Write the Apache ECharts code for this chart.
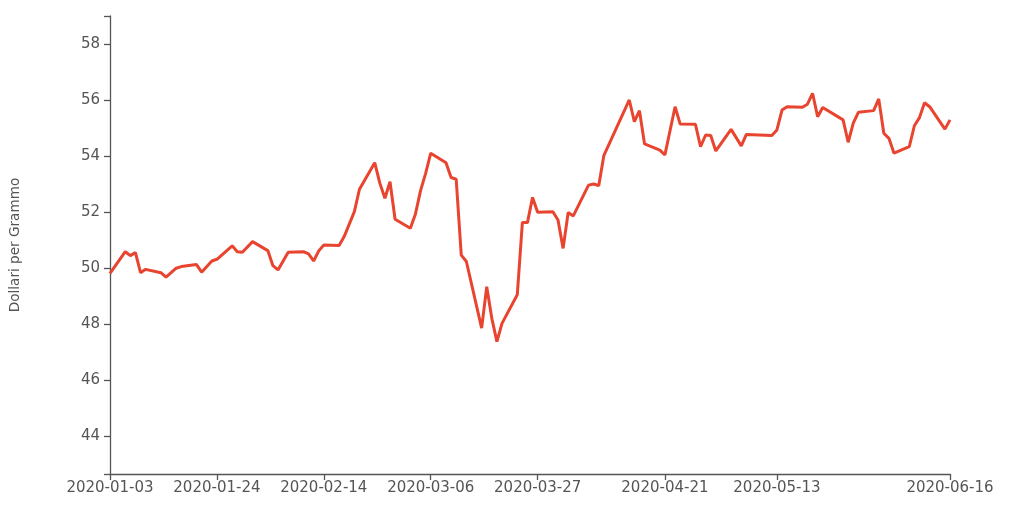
<!DOCTYPE html>
<html>
<head>
<meta charset="utf-8">
<script src="https://cdn.jsdelivr.net/npm/echarts@6/dist/echarts.min.js"></script>
<style>
html,body{margin:0;padding:0;background:#fff;}
#chart{width:1009px;height:512px;}
</style>
</head>
<body>
<div id="chart"></div>
<script>
var dates = [
'2020-01-03','2020-01-06','2020-01-07','2020-01-08','2020-01-09','2020-01-10','2020-01-13','2020-01-14','2020-01-16','2020-01-17',
'2020-01-20','2020-01-21','2020-01-23','2020-01-24','2020-01-27','2020-01-28','2020-01-29','2020-01-31',
'2020-02-03','2020-02-04','2020-02-05','2020-02-07','2020-02-10','2020-02-11','2020-02-12','2020-02-13','2020-02-14',
'2020-02-17','2020-02-18','2020-02-20','2020-02-21','2020-02-24','2020-02-25','2020-02-26','2020-02-27','2020-02-28',
'2020-03-02','2020-03-03','2020-03-04','2020-03-05','2020-03-06','2020-03-09','2020-03-10','2020-03-11','2020-03-12','2020-03-13',
'2020-03-16','2020-03-17','2020-03-18','2020-03-19','2020-03-20','2020-03-23','2020-03-24','2020-03-25','2020-03-26','2020-03-27',
'2020-03-30','2020-03-31','2020-04-01','2020-04-02','2020-04-03','2020-04-06','2020-04-07','2020-04-08','2020-04-09',
'2020-04-14','2020-04-15','2020-04-16','2020-04-17','2020-04-20','2020-04-21','2020-04-23','2020-04-24',
'2020-04-27','2020-04-28','2020-04-29','2020-04-30','2020-05-01','2020-05-04','2020-05-06','2020-05-07',
'2020-05-12','2020-05-13','2020-05-14','2020-05-15','2020-05-18','2020-05-19','2020-05-20','2020-05-21','2020-05-22',
'2020-05-26','2020-05-27','2020-05-28','2020-05-29','2020-06-01','2020-06-02','2020-06-03','2020-06-04','2020-06-05',
'2020-06-08','2020-06-09','2020-06-10','2020-06-11','2020-06-12','2020-06-15','2020-06-16'
];
var prices = [
49.81,50.58,50.44,50.55,49.83,49.95,49.83,49.67,49.99,50.05,
50.12,49.85,50.25,50.31,50.79,50.58,50.56,50.94,
50.62,50.08,49.93,50.56,50.58,50.50,50.25,50.61,50.82,
50.80,51.12,52.01,52.81,53.76,53.03,52.49,53.08,51.74,
51.42,51.93,52.76,53.38,54.10,53.76,53.23,53.17,50.46,50.23,
47.85,49.33,48.20,47.37,48.02,49.04,51.62,51.62,52.52,51.99,
52.01,51.71,50.70,51.98,51.86,52.96,53.00,52.94,54.01,
56.00,55.23,55.62,54.43,54.21,54.04,55.76,55.14,
55.13,54.33,54.75,54.73,54.18,54.95,54.36,54.77,
54.73,54.93,55.64,55.76,55.74,55.85,56.24,55.40,55.73,
55.29,54.49,55.17,55.56,55.62,56.04,54.81,54.63,54.10,
54.33,55.08,55.37,55.90,55.76,54.96,55.29
];
var xTickLabels = ['2020-01-03','2020-01-24','2020-02-14','2020-03-06','2020-03-27','2020-04-21','2020-05-13','2020-06-16'];
var yTickLabels = [44,46,48,50,52,54,56,58];
var yTitle = 'Dollari per Grammo';

function ts(s){ var p = s.split('-'); return new Date(+p[0], +p[1]-1, +p[2]).getTime(); }
var yMin = 42.64, yMax = 59.0;
var xTicks = xTickLabels.map(ts);

var chart = echarts.init(document.getElementById('chart'), null, {renderer:'canvas'});
var font = 'DejaVu Sans';
chart.setOption({
  animation: false,
  grid: {left:110, right:59, top:16, bottom:38, containLabel:false},
  xAxis: {
    type: 'time',
    min: ts(dates[0]),
    max: ts(dates[dates.length-1]),
    axisLine: {show:true, lineStyle:{color:'#555', width:1.3}},
    axisTick: {show:true, length:6, lineStyle:{color:'#555', width:1.3}, customValues: xTicks},
    axisLabel: {
      customValues: xTicks,
      formatter: '{yyyy}-{MM}-{dd}',
      color:'#555', fontFamily: font, fontSize: 15, margin: 7,
      showMinLabel: true, showMaxLabel: true, hideOverlap: false
    },
    splitLine: {show:false}
  },
  yAxis: {
    type: 'value',
    min: yMin, max: yMax,
    name: yTitle,
    nameLocation: 'middle',
    nameGap: 88,
    nameRotate: 90,
    nameTextStyle: {color:'#555', fontFamily: font, fontSize: 13.6},
    axisLine: {show:true, onZero:false, lineStyle:{color:'#555', width:1.3}},
    axisTick: {show:true, length:6, lineStyle:{color:'#555', width:1.3}, customValues: [yMin].concat(yTickLabels, [yMax])},
    axisLabel: {customValues: yTickLabels, color:'#555', fontFamily: font, fontSize: 15, margin: 10},
    splitLine: {show:false}
  },
  series: [{
    type: 'line',
    data: dates.map(function(d,i){ return [ts(d), prices[i]]; }),
    showSymbol: false,
    symbol: 'none',
    lineStyle: {color:'#e8442f', width:3},
    itemStyle: {color:'#e8442f'}
  }]
});
</script>
</body>
</html>
